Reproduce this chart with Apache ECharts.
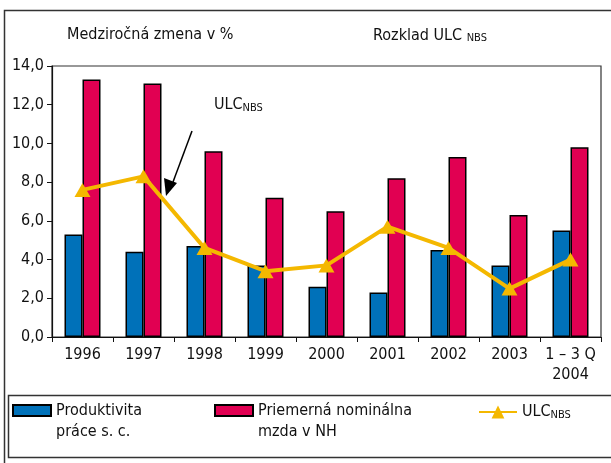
<!DOCTYPE html>
<html>
<head>
<meta charset="utf-8">
<script src="https://cdn.jsdelivr.net/npm/echarts@6/dist/echarts.min.js"></script>
<style>
  html, body { margin: 0; padding: 0; background: #fff; }
  #chart { width: 611px; height: 463px; }
</style>
</head>
<body>
<div id="chart"></div>
<script>
const years = ['1996', '1997', '1998', '1999', '2000', '2001', '2002', '2003', '1 – 3 Q\n2004']
const produktivita = [5.3, 4.4, 4.7, 3.7, 2.6, 2.3, 4.5, 3.7, 5.5]
const mzda = [13.3, 13.1, 9.6, 7.2, 6.5, 8.2, 9.3, 6.3, 9.8]
const ulc = [7.6, 8.3, 4.6, 3.4, 3.7, 5.7, 4.6, 2.5, 4.0]
const yTicks = { min: 0, max: 14, interval: 2 }

const font = "'Liberation Sans Narrow', 'DejaVu Sans Condensed', 'Arial Narrow', sans-serif"
const blue = '#0071b9'
const red = '#e10052'
const gold = '#f4b800'

const chart = echarts.init(document.getElementById('chart'))

const subRich = {
  sub: { fontFamily: font, fontSize: 11, color: '#111', verticalAlign: 'bottom', padding: [6, 0, 0, 0] }
}

// blank first line so the first text line sits level with the icon
const twoLine = name => '\n' + name

const option = {
  animation: false,
  backgroundColor: '#fff',
  textStyle: { fontFamily: font },
  title: [
    {
      text: 'Medziročná zmena v %',
      left: 62, top: 22,
      textStyle: { fontFamily: font, fontSize: 16, fontWeight: 'normal', color: '#111' }
    },
    {
      text: 'Rozklad ULC {sub|NBS}',
      left: 368, top: 22,
      textStyle: { fontFamily: font, fontSize: 16, fontWeight: 'normal', color: '#111', rich: subRich }
    }
  ],
  grid: {
    left: 52, top: 66, right: 10, bottom: 126,
    show: true, borderColor: '#333', borderWidth: 1.2, backgroundColor: 'transparent'
  },
  legend: [
    {
      data: ['Produktivita\npráce s. c.'],
      left: 12, top: 379, padding: 0,
      icon: 'rect',
      itemWidth: 38, itemHeight: 11,
      formatter: twoLine,
      textStyle: { fontFamily: font, fontSize: 16, color: '#111', lineHeight: 21 }
    },
    {
      data: ['Priemerná nominálna\nmzda v NH'],
      left: 214, top: 379, padding: 0,
      icon: 'rect',
      itemWidth: 38, itemHeight: 11,
      formatter: twoLine,
      textStyle: { fontFamily: font, fontSize: 16, color: '#111', lineHeight: 21 }
    },
    {
      data: ['ULC'],
      left: 478, top: 404, padding: 0,
      itemWidth: 38, itemHeight: 16,
      formatter: () => 'ULC{sub|NBS}',
      textStyle: { fontFamily: font, fontSize: 16, color: '#111', rich: subRich }
    }
  ],
  xAxis: {
    type: 'category',
    data: years,
    boundaryGap: true,
    axisLine: { lineStyle: { color: '#111', width: 1.2 } },
    axisTick: { show: true, alignWithLabel: false, length: 5, lineStyle: { color: '#111' } },
    axisLabel: { color: '#111', fontSize: 16, fontFamily: font, margin: 8, lineHeight: 20, interval: 0 }
  },
  yAxis: {
    type: 'value',
    min: yTicks.min, max: yTicks.max, interval: yTicks.interval,
    splitLine: { show: false },
    axisLine: { show: true, lineStyle: { color: '#111', width: 1.2 } },
    axisTick: { show: true, length: 5, lineStyle: { color: '#111' } },
    axisLabel: {
      color: '#111', fontSize: 16, fontFamily: font, margin: 8,
      formatter: v => v.toFixed(1).replace('.', ',')
    }
  },
  series: [
    {
      name: 'Produktivita\npráce s. c.',
      type: 'bar',
      data: produktivita,
      barWidth: 18,
      barGap: '0%',
      itemStyle: { color: blue, borderColor: '#000', borderWidth: 1.5 }
    },
    {
      name: 'Priemerná nominálna\nmzda v NH',
      type: 'bar',
      data: mzda,
      barWidth: 18,
      itemStyle: { color: red, borderColor: '#000', borderWidth: 1.5 }
    },
    {
      name: 'ULC',
      type: 'line',
      data: ulc,
      z: 5,
      symbol: 'triangle',
      symbolSize: [16, 14],
      lineStyle: { color: gold, width: 4 },
      itemStyle: { color: gold }
    }
  ],
  graphic: [
    {
      type: 'rect', silent: true, z: -1,
      shape: { x: 4.5, y: 10.5, width: 620, height: 470 },
      style: { fill: null, stroke: '#333', lineWidth: 1.5 }
    },
    {
      type: 'rect', silent: true,
      shape: { x: 8.5, y: 395.5, width: 620, height: 62 },
      style: { fill: null, stroke: '#333', lineWidth: 1.5 }
    },
    {
      type: 'text', left: 214, top: 97,
      style: {
        text: 'ULC{sub|NBS}',
        fontFamily: font, fontSize: 16, fill: '#111',
        rich: subRich
      }
    },
    {
      type: 'line', silent: true,
      shape: { x1: 192, y1: 131, x2: 173, y2: 182 },
      style: { stroke: '#000', lineWidth: 1.5 }
    },
    {
      type: 'polygon', silent: true,
      shape: { points: [[166, 196], [164, 178], [177, 183]] },
      style: { fill: '#000' }
    }
  ]
}

chart.setOption(option)
</script>
</body>
</html>
